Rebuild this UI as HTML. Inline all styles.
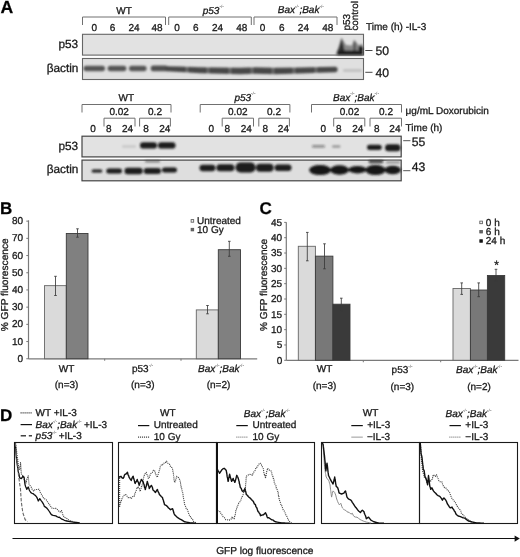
<!DOCTYPE html>
<html><head><meta charset="utf-8"><style>
html,body{margin:0;padding:0;background:#fff;width:520px;height:557px;overflow:hidden}
svg{display:block;font-family:"Liberation Sans", sans-serif;filter:grayscale(1)}
body{-webkit-font-smoothing:antialiased}
text{text-rendering:geometricPrecision;stroke:#1a1a1a;stroke-width:0.3px}
</style></head><body>
<svg width="520" height="557" viewBox="0 0 520 557">
<defs>
<filter id="b1" x="-20%" y="-50%" width="140%" height="200%"><feGaussianBlur stdDeviation="0.8"/></filter>
<filter id="b15" x="-20%" y="-50%" width="140%" height="200%"><feGaussianBlur stdDeviation="1.25"/></filter>
<filter id="b2" x="-20%" y="-50%" width="140%" height="200%"><feGaussianBlur stdDeviation="1.6"/></filter>
</defs>
<rect width="520" height="557" fill="#fff"/>
<text x="0.6" y="13.2" font-size="17.6" text-anchor="start" font-weight="bold" fill="#000" >A</text>
<text x="124" y="14.3" font-size="10" text-anchor="middle" fill="#1a1a1a" >WT</text>
<text x="202.7" y="13.6" font-size="10" text-anchor="start" font-style="italic" fill="#1a1a1a" >p53<tspan font-size="4.6" dy="-5.2" font-style="normal" fill="#444" stroke="none">-/-</tspan></text>
<text x="277.8" y="12.9" font-size="10" text-anchor="start" font-style="italic" fill="#1a1a1a" >Bax<tspan font-size="4.6" dy="-5.2" font-style="normal" fill="#444" stroke="none">-/-</tspan><tspan dy="5.2">;Bak</tspan><tspan font-size="4.6" dy="-5.2" font-style="normal" fill="#444" stroke="none">-/-</tspan></text>
<path d="M82.5 25 V17.0 H165.5 V25" fill="none" stroke="#707070" stroke-width="1"/>
<path d="M168.7 25 V17.0 H251.3 V25" fill="none" stroke="#707070" stroke-width="1"/>
<path d="M254 25 V17.0 H337 V25" fill="none" stroke="#707070" stroke-width="1"/>
<text x="94.4" y="31.2" font-size="10" text-anchor="middle" fill="#1a1a1a" >0</text>
<text x="112.5" y="31.2" font-size="10" text-anchor="middle" fill="#1a1a1a" >6</text>
<text x="134" y="31.2" font-size="10" text-anchor="middle" fill="#1a1a1a" >24</text>
<text x="157" y="31.2" font-size="10" text-anchor="middle" fill="#1a1a1a" >48</text>
<text x="177" y="31.2" font-size="10" text-anchor="middle" fill="#1a1a1a" >0</text>
<text x="195.75" y="31.2" font-size="10" text-anchor="middle" fill="#1a1a1a" >6</text>
<text x="217.5" y="31.2" font-size="10" text-anchor="middle" fill="#1a1a1a" >24</text>
<text x="241.75" y="31.2" font-size="10" text-anchor="middle" fill="#1a1a1a" >48</text>
<text x="262.5" y="31.2" font-size="10" text-anchor="middle" fill="#1a1a1a" >0</text>
<text x="281.7" y="31.2" font-size="10" text-anchor="middle" fill="#1a1a1a" >6</text>
<text x="303.4" y="31.2" font-size="10" text-anchor="middle" fill="#1a1a1a" >24</text>
<text x="327.7" y="31.2" font-size="10" text-anchor="middle" fill="#1a1a1a" >48</text>
<text transform="translate(349.8 30.6) rotate(-90)" font-size="10" fill="#1a1a1a">p53</text>
<text transform="translate(358.4 30.6) rotate(-90)" font-size="9.8" fill="#1a1a1a">control</text>
<text x="366" y="30.3" font-size="10" text-anchor="start" fill="#1a1a1a" >Time (h) -IL-3</text>
<text x="78.2" y="47.6" font-size="11.8" text-anchor="end" fill="#1a1a1a" >p53</text>
<text x="78.4" y="71.7" font-size="11.8" text-anchor="end" fill="#1a1a1a" >&#946;actin</text>
<rect x="82.5" y="34.3" width="281" height="20.8" fill="#e2e2e2" stroke="#666" stroke-width="1.1" />
<rect x="82.5" y="58.5" width="281" height="21" fill="#e0e0e0" stroke="#666" stroke-width="1.1" />
<g filter="url(#b15)"><path d="M335.5 55 L339 46 L341.5 37.5 L343.5 41 L346 45 L352 45.5 L354 39.5 L356 42 L358.5 45 L363 44 L363 55 Z" fill="#8a8a8a"/><path d="M336.5 55 L340 44 L341.5 38.5 L343.2 44 L345.5 55 Z" fill="#333"/><ellipse cx="354.6" cy="48" rx="1.5" ry="7" fill="#5a5a5a"/><ellipse cx="360.8" cy="48.6" rx="2.3" ry="2.6" fill="#111"/><rect x="337.5" y="50.5" width="25.5" height="4.5" fill="#1e1e1e"/></g>
<g filter="url(#b15)">
<rect x="83.5" y="65.8" width="21.5" height="5.4" rx="2.7" fill="#555"/>
<rect x="107.6" y="65.8" width="18.80000000000001" height="5.4" rx="2.7" fill="#555"/>
<rect x="129" y="65.8" width="17.599999999999994" height="5.4" rx="2.7" fill="#555"/>
<rect x="150.7" y="65.60000000000001" width="17.30000000000001" height="5.6" rx="2.8" fill="#505050"/>
<path d="M166 66.3 L180 66.6 L200 67.2 L220 67.6 L240 67.8 L255 67.2 L275 67.8 L300 67.6 L320 67 L336 66.8 Q339.5 69.5 336 72.3 L320 72.8 L300 73.5 L275 74.2 L255 73.8 L240 74.3 L220 73.8 L200 73.2 L180 72 L166 71.2 Q164 68.7 166 66.3 Z" fill="#474747"/>
<rect x="185.8" y="65" width="2.4" height="10" fill="#e0e0e0" opacity="0.25"/>
<rect x="206.8" y="65" width="2.4" height="10" fill="#e0e0e0" opacity="0.25"/>
<rect x="228.8" y="65" width="2.4" height="10" fill="#e0e0e0" opacity="0.25"/>
<rect x="250.8" y="65" width="2.4" height="10" fill="#e0e0e0" opacity="0.25"/>
<rect x="271.8" y="65" width="2.4" height="10" fill="#e0e0e0" opacity="0.25"/>
<rect x="292.8" y="65" width="2.4" height="10" fill="#e0e0e0" opacity="0.25"/>
<rect x="314.8" y="65" width="2.4" height="10" fill="#e0e0e0" opacity="0.25"/>
<rect x="343" y="69.3" width="19" height="2.5" rx="1.2" fill="#bdbdbd"/>
</g>
<text x="365.3" y="50.5" font-size="1" text-anchor="start" fill="#1a1a1a" ></text>
<line x1="365.3" y1="50.5" x2="372.5" y2="50.5" stroke="#333" stroke-width="0.9" />
<text x="375.6" y="54.6" font-size="12.2" text-anchor="start" fill="#1a1a1a" >50</text>
<line x1="365.3" y1="72.3" x2="372.5" y2="72.3" stroke="#333" stroke-width="0.9" />
<text x="375.6" y="76.6" font-size="12.2" text-anchor="start" fill="#1a1a1a" >40</text>
<text x="126.3" y="101" font-size="10" text-anchor="middle" fill="#1a1a1a" >WT</text>
<text x="234.4" y="100.6" font-size="10" text-anchor="start" font-style="italic" fill="#1a1a1a" >p53<tspan font-size="4.6" dy="-5.2" font-style="normal" fill="#444" stroke="none">-/-</tspan></text>
<text x="333" y="100.6" font-size="10" text-anchor="start" font-style="italic" fill="#1a1a1a" >Bax<tspan font-size="4.6" dy="-5.2" font-style="normal" fill="#444" stroke="none">-/-</tspan><tspan dy="5.2">;Bak</tspan><tspan font-size="4.6" dy="-5.2" font-style="normal" fill="#444" stroke="none">-/-</tspan></text>
<path d="M82 112.5 V104.5 H171 V112.5" fill="none" stroke="#707070" stroke-width="1"/>
<path d="M200.2 112.5 V104.5 H289.9 V112.5" fill="none" stroke="#707070" stroke-width="1"/>
<path d="M311.5 112.5 V104.5 H401.5 V112.5" fill="none" stroke="#707070" stroke-width="1"/>
<path d="M104 126.5 V118.2 H135 V126.5" fill="none" stroke="#707070" stroke-width="1"/>
<path d="M139.6 126.5 V118.2 H170.4 V126.5" fill="none" stroke="#707070" stroke-width="1"/>
<path d="M222.2 126.5 V118.2 H253.5 V126.5" fill="none" stroke="#707070" stroke-width="1"/>
<path d="M258.8 126.5 V118.2 H289.4 V126.5" fill="none" stroke="#707070" stroke-width="1"/>
<path d="M333.7 126.5 V118.2 H364.8 V126.5" fill="none" stroke="#707070" stroke-width="1"/>
<path d="M370 126.5 V118.2 H401.5 V126.5" fill="none" stroke="#707070" stroke-width="1"/>
<text x="119.2" y="114.9" font-size="10" text-anchor="middle" fill="#1a1a1a" >0.02</text>
<text x="155" y="114.9" font-size="10" text-anchor="middle" fill="#1a1a1a" >0.2</text>
<text x="237.8" y="114.9" font-size="10" text-anchor="middle" fill="#1a1a1a" >0.02</text>
<text x="274" y="114.9" font-size="10" text-anchor="middle" fill="#1a1a1a" >0.2</text>
<text x="349.5" y="114.9" font-size="10" text-anchor="middle" fill="#1a1a1a" >0.02</text>
<text x="386" y="114.9" font-size="10" text-anchor="middle" fill="#1a1a1a" >0.2</text>
<text x="93" y="132.4" font-size="10" text-anchor="middle" fill="#1a1a1a" >0</text>
<text x="108.7" y="132.4" font-size="10" text-anchor="middle" fill="#1a1a1a" >8</text>
<text x="127.5" y="132.4" font-size="10" text-anchor="middle" fill="#1a1a1a" >24</text>
<text x="146" y="132.4" font-size="10" text-anchor="middle" fill="#1a1a1a" >8</text>
<text x="164.7" y="132.4" font-size="10" text-anchor="middle" fill="#1a1a1a" >24</text>
<text x="211.4" y="132.4" font-size="10" text-anchor="middle" fill="#1a1a1a" >0</text>
<text x="227.3" y="132.4" font-size="10" text-anchor="middle" fill="#1a1a1a" >8</text>
<text x="246.3" y="132.4" font-size="10" text-anchor="middle" fill="#1a1a1a" >24</text>
<text x="265.4" y="132.4" font-size="10" text-anchor="middle" fill="#1a1a1a" >8</text>
<text x="283.4" y="132.4" font-size="10" text-anchor="middle" fill="#1a1a1a" >24</text>
<text x="323.3" y="132.4" font-size="10" text-anchor="middle" fill="#1a1a1a" >0</text>
<text x="338.7" y="132.4" font-size="10" text-anchor="middle" fill="#1a1a1a" >8</text>
<text x="357.8" y="132.4" font-size="10" text-anchor="middle" fill="#1a1a1a" >24</text>
<text x="376.7" y="132.4" font-size="10" text-anchor="middle" fill="#1a1a1a" >8</text>
<text x="394.9" y="132.4" font-size="10" text-anchor="middle" fill="#1a1a1a" >24</text>
<text x="405.6" y="113.9" font-size="10" text-anchor="start" fill="#1a1a1a" >&#956;g/mL Doxorubicin</text>
<text x="405.6" y="131.2" font-size="10" text-anchor="start" fill="#1a1a1a" >Time (h)</text>
<text x="78.2" y="149.6" font-size="11.8" text-anchor="end" fill="#1a1a1a" >p53</text>
<text x="78.4" y="173.3" font-size="11.8" text-anchor="end" fill="#1a1a1a" >&#946;actin</text>
<rect x="82" y="136.2" width="319.2" height="20.7" fill="#e2e2e2" stroke="#444" stroke-width="1.2" />
<rect x="82" y="160.1" width="319.2" height="20.7" fill="#dedede" stroke="#444" stroke-width="1.2" />
<g filter="url(#b1)">
<rect x="140" y="142.25" width="17" height="6.3" rx="3.15" fill="#1a1a1a" opacity="1"/>
<rect x="158" y="142.25" width="17.5" height="6.3" rx="3.15" fill="#1a1a1a" opacity="1"/>
<rect x="312" y="145.3" width="13" height="2.2" rx="1.1" fill="#1a1a1a" opacity="0.5"/>
<rect x="332" y="145.6" width="8.5" height="2" rx="1.0" fill="#1a1a1a" opacity="0.4"/>
<rect x="122" y="145.25" width="14" height="2.5" rx="1.25" fill="#1a1a1a" opacity="0.12"/>
<rect x="367" y="144.70000000000002" width="14.699999999999989" height="5.2" rx="2.6" fill="#1a1a1a" opacity="1"/>
<rect x="385" y="144.3" width="15.5" height="7" rx="3.5" fill="#1a1a1a" opacity="1"/>
<rect x="91.6" y="169.5" width="10.700000000000003" height="3" rx="1.5" fill="#1a1a1a"/>
<rect x="106.3" y="168.5" width="15.700000000000003" height="5" rx="2.5" fill="#1a1a1a"/>
<rect x="124.5" y="167.75" width="18.19999999999999" height="6.5" rx="3.25" fill="#1a1a1a"/>
<rect x="143.7" y="168.0" width="17.30000000000001" height="6" rx="3.0" fill="#1a1a1a"/>
<rect x="162" y="167.5" width="15" height="5" rx="2.5" fill="#1a1a1a"/>
<rect x="199.5" y="164.85" width="15.900000000000006" height="6.3" rx="3.15" fill="#1a1a1a"/>
<rect x="216.4" y="164.3" width="18.0" height="7" rx="3.5" fill="#1a1a1a"/>
<rect x="235.5" y="162.5" width="20.099999999999994" height="10" rx="5.0" fill="#1a1a1a"/>
<rect x="256" y="163.8" width="17.600000000000023" height="8" rx="4.0" fill="#1a1a1a"/>
<rect x="274.6" y="164.55" width="16.899999999999977" height="6.5" rx="3.25" fill="#1a1a1a"/>
<ellipse cx="320.05" cy="170.1" rx="10.949999999999989" ry="5.0" fill="#141414"/>
<ellipse cx="339.5" cy="170" rx="9.5" ry="4.7" fill="#141414"/>
<ellipse cx="357.5" cy="169.7" rx="9.0" ry="3.7" fill="#141414"/>
<ellipse cx="375.5" cy="170.1" rx="10.0" ry="5.0" fill="#141414"/>
<ellipse cx="392.75" cy="170" rx="8.25" ry="4.3" fill="#141414"/>
<rect x="145" y="160.5" width="15" height="1.8" rx="0.9" fill="#333" opacity="0.7"/>
<rect x="368.7" y="160.6" width="14.5" height="2.2" rx="1" fill="#111"/>
<rect x="386" y="161" width="14" height="2.5" rx="1" fill="#999"/>
</g>
<line x1="403.2" y1="140.7" x2="410.4" y2="140.7" stroke="#444" stroke-width="0.9" />
<text x="411.7" y="145.6" font-size="12.2" text-anchor="start" fill="#1a1a1a" >55</text>
<line x1="403.2" y1="170.7" x2="410.4" y2="170.7" stroke="#444" stroke-width="0.9" />
<text x="411.7" y="170.9" font-size="12.2" text-anchor="start" fill="#1a1a1a" >43</text>
<text x="0" y="213.8" font-size="17" text-anchor="start" font-weight="bold" fill="#000" >B</text>
<line x1="28.5" y1="220.3" x2="28.5" y2="359" stroke="#7a7a7a" stroke-width="1.2" />
<line x1="28.5" y1="358.9" x2="257.2" y2="358.9" stroke="#7a7a7a" stroke-width="1.3" />
<line x1="26.3" y1="358.75" x2="28.5" y2="358.75" stroke="#777" stroke-width="1" />
<text x="23.0" y="361.85" font-size="10" text-anchor="end" fill="#1a1a1a" >0</text>
<line x1="26.3" y1="341.55" x2="28.5" y2="341.55" stroke="#777" stroke-width="1" />
<text x="23.0" y="344.65000000000003" font-size="10" text-anchor="end" fill="#1a1a1a" >10</text>
<line x1="26.3" y1="324.35" x2="28.5" y2="324.35" stroke="#777" stroke-width="1" />
<text x="23.0" y="327.45000000000005" font-size="10" text-anchor="end" fill="#1a1a1a" >20</text>
<line x1="26.3" y1="307.15" x2="28.5" y2="307.15" stroke="#777" stroke-width="1" />
<text x="23.0" y="310.25" font-size="10" text-anchor="end" fill="#1a1a1a" >30</text>
<line x1="26.3" y1="289.95" x2="28.5" y2="289.95" stroke="#777" stroke-width="1" />
<text x="23.0" y="293.05" font-size="10" text-anchor="end" fill="#1a1a1a" >40</text>
<line x1="26.3" y1="272.75" x2="28.5" y2="272.75" stroke="#777" stroke-width="1" />
<text x="23.0" y="275.85" font-size="10" text-anchor="end" fill="#1a1a1a" >50</text>
<line x1="26.3" y1="255.55" x2="28.5" y2="255.55" stroke="#777" stroke-width="1" />
<text x="23.0" y="258.65000000000003" font-size="10" text-anchor="end" fill="#1a1a1a" >60</text>
<line x1="26.3" y1="238.35000000000002" x2="28.5" y2="238.35000000000002" stroke="#777" stroke-width="1" />
<text x="23.0" y="241.45000000000002" font-size="10" text-anchor="end" fill="#1a1a1a" >70</text>
<line x1="26.3" y1="221.15" x2="28.5" y2="221.15" stroke="#777" stroke-width="1" />
<text x="23.0" y="224.25" font-size="10" text-anchor="end" fill="#1a1a1a" >80</text>
<line x1="104.7" y1="358.75" x2="104.7" y2="360.75" stroke="#777" stroke-width="1" />
<line x1="181" y1="358.75" x2="181" y2="360.75" stroke="#777" stroke-width="1" />
<text transform="translate(8.0 331.3) rotate(-90)" font-size="10" fill="#1a1a1a" textLength="93" lengthAdjust="spacingAndGlyphs">% GFP fluorescence</text>
<rect x="44.5" y="285.65" width="21.799999999999997" height="73.10000000000002" fill="#dadada" stroke="#666" stroke-width="0.9" />
<rect x="66.3" y="233.534" width="21.700000000000003" height="125.21600000000001" fill="#808080" stroke="#3a3a3a" stroke-width="0.9" />
<rect x="196.3" y="309.902" width="22.0" height="48.84800000000001" fill="#dadada" stroke="#666" stroke-width="0.9" />
<rect x="218.3" y="249.702" width="22.19999999999999" height="109.048" fill="#808080" stroke="#3a3a3a" stroke-width="0.9" />
<line x1="55.5" y1="276.3" x2="55.5" y2="295.5" stroke="#3a3a3a" stroke-width="0.85" />
<line x1="54.2" y1="276.3" x2="56.8" y2="276.3" stroke="#3a3a3a" stroke-width="0.85" />
<line x1="54.2" y1="295.5" x2="56.8" y2="295.5" stroke="#3a3a3a" stroke-width="0.85" />
<line x1="77.5" y1="228.8" x2="77.5" y2="237.2" stroke="#3a3a3a" stroke-width="0.85" />
<line x1="76.2" y1="228.8" x2="78.8" y2="228.8" stroke="#3a3a3a" stroke-width="0.85" />
<line x1="76.2" y1="237.2" x2="78.8" y2="237.2" stroke="#3a3a3a" stroke-width="0.85" />
<line x1="207.5" y1="305.5" x2="207.5" y2="313.8" stroke="#3a3a3a" stroke-width="0.85" />
<line x1="206.2" y1="305.5" x2="208.8" y2="305.5" stroke="#3a3a3a" stroke-width="0.85" />
<line x1="206.2" y1="313.8" x2="208.8" y2="313.8" stroke="#3a3a3a" stroke-width="0.85" />
<line x1="229.3" y1="241.3" x2="229.3" y2="256.3" stroke="#3a3a3a" stroke-width="0.85" />
<line x1="228.0" y1="241.3" x2="230.60000000000002" y2="241.3" stroke="#3a3a3a" stroke-width="0.85" />
<line x1="228.0" y1="256.3" x2="230.60000000000002" y2="256.3" stroke="#3a3a3a" stroke-width="0.85" />
<text x="66.6" y="372.3" font-size="10" text-anchor="middle" fill="#1a1a1a" >WT</text>
<text x="132" y="372.3" font-size="10" text-anchor="start" fill="#1a1a1a" >p53<tspan font-size="4.6" dy="-5.2" font-style="normal" fill="#444" stroke="none">-/-</tspan></text>
<text x="198" y="372.3" font-size="10" text-anchor="start" font-style="italic" fill="#1a1a1a" >Bax<tspan font-size="4.6" dy="-5.2" font-style="normal" fill="#444" stroke="none">-/-</tspan><tspan dy="5.2">;Bak</tspan><tspan font-size="4.6" dy="-5.2" font-style="normal" fill="#444" stroke="none">-/-</tspan></text>
<text x="66.6" y="387.9" font-size="10" text-anchor="middle" fill="#1a1a1a" >(n=3)</text>
<text x="142.8" y="387.9" font-size="10" text-anchor="middle" fill="#1a1a1a" >(n=3)</text>
<text x="218.5" y="387.9" font-size="10" text-anchor="middle" fill="#1a1a1a" >(n=2)</text>
<rect x="191.1" y="219.6" width="2.6" height="2.6" fill="#f0f0f0" stroke="#555" stroke-width="0.8" />
<rect x="191.1" y="228.3" width="2.6" height="2.6" fill="#666" stroke="#555" stroke-width="0.8" />
<text x="197" y="224.2" font-size="10" text-anchor="start" fill="#1a1a1a" >Untreated</text>
<text x="197" y="233.2" font-size="10" text-anchor="start" fill="#1a1a1a" >10 Gy</text>
<text x="259.5" y="213.8" font-size="17" text-anchor="start" font-weight="bold" fill="#000" >C</text>
<line x1="286.3" y1="222.2" x2="286.3" y2="360.5" stroke="#7a7a7a" stroke-width="1.2" />
<line x1="286.3" y1="360.4" x2="518.5" y2="360.4" stroke="#7a7a7a" stroke-width="1.3" />
<line x1="284.2" y1="360.3" x2="286.3" y2="360.3" stroke="#777" stroke-width="1" />
<text x="282.2" y="363.7" font-size="10" text-anchor="end" fill="#1a1a1a" >0</text>
<line x1="284.2" y1="344.975" x2="286.3" y2="344.975" stroke="#777" stroke-width="1" />
<text x="282.2" y="348.375" font-size="10" text-anchor="end" fill="#1a1a1a" >5</text>
<line x1="284.2" y1="329.65000000000003" x2="286.3" y2="329.65000000000003" stroke="#777" stroke-width="1" />
<text x="282.2" y="333.05" font-size="10" text-anchor="end" fill="#1a1a1a" >10</text>
<line x1="284.2" y1="314.325" x2="286.3" y2="314.325" stroke="#777" stroke-width="1" />
<text x="282.2" y="317.72499999999997" font-size="10" text-anchor="end" fill="#1a1a1a" >15</text>
<line x1="284.2" y1="299.0" x2="286.3" y2="299.0" stroke="#777" stroke-width="1" />
<text x="282.2" y="302.4" font-size="10" text-anchor="end" fill="#1a1a1a" >20</text>
<line x1="284.2" y1="283.675" x2="286.3" y2="283.675" stroke="#777" stroke-width="1" />
<text x="282.2" y="287.075" font-size="10" text-anchor="end" fill="#1a1a1a" >25</text>
<line x1="284.2" y1="268.35" x2="286.3" y2="268.35" stroke="#777" stroke-width="1" />
<text x="282.2" y="271.75" font-size="10" text-anchor="end" fill="#1a1a1a" >30</text>
<line x1="284.2" y1="253.02500000000003" x2="286.3" y2="253.02500000000003" stroke="#777" stroke-width="1" />
<text x="282.2" y="256.425" font-size="10" text-anchor="end" fill="#1a1a1a" >35</text>
<line x1="284.2" y1="237.70000000000002" x2="286.3" y2="237.70000000000002" stroke="#777" stroke-width="1" />
<text x="282.2" y="241.10000000000002" font-size="10" text-anchor="end" fill="#1a1a1a" >40</text>
<line x1="284.2" y1="222.375" x2="286.3" y2="222.375" stroke="#777" stroke-width="1" />
<text x="282.2" y="225.775" font-size="10" text-anchor="end" fill="#1a1a1a" >45</text>
<line x1="363.3" y1="360.25" x2="363.3" y2="362.25" stroke="#777" stroke-width="1" />
<line x1="440.7" y1="360.25" x2="440.7" y2="362.25" stroke="#777" stroke-width="1" />
<text transform="translate(266.9 330.9) rotate(-90)" font-size="10" fill="#1a1a1a" textLength="92" lengthAdjust="spacingAndGlyphs">% GFP fluorescence</text>
<rect x="298.3" y="246.29" width="17.099999999999966" height="113.96000000000001" fill="#dadada" stroke="#666" stroke-width="0.9" />
<rect x="315.4" y="256.146" width="17.5" height="104.10399999999998" fill="#787878" stroke="#3a3a3a" stroke-width="0.9" />
<rect x="332.9" y="304.194" width="17.100000000000023" height="56.05599999999998" fill="#3a3a3a" stroke="#3a3a3a" stroke-width="0.9" />
<rect x="453" y="288.486" width="17.399999999999977" height="71.76400000000001" fill="#dadada" stroke="#666" stroke-width="0.9" />
<rect x="470.4" y="290.026" width="17.0" height="70.22399999999999" fill="#787878" stroke="#3a3a3a" stroke-width="0.9" />
<rect x="487.4" y="275.55" width="17.30000000000001" height="84.69999999999999" fill="#3a3a3a" stroke="#3a3a3a" stroke-width="0.9" />
<line x1="307.3" y1="232.4" x2="307.3" y2="260.8" stroke="#3a3a3a" stroke-width="0.85" />
<line x1="306.0" y1="232.4" x2="308.6" y2="232.4" stroke="#3a3a3a" stroke-width="0.85" />
<line x1="306.0" y1="260.8" x2="308.6" y2="260.8" stroke="#3a3a3a" stroke-width="0.85" />
<line x1="324.5" y1="243.8" x2="324.5" y2="268.8" stroke="#3a3a3a" stroke-width="0.85" />
<line x1="323.2" y1="243.8" x2="325.8" y2="243.8" stroke="#3a3a3a" stroke-width="0.85" />
<line x1="323.2" y1="268.8" x2="325.8" y2="268.8" stroke="#3a3a3a" stroke-width="0.85" />
<line x1="341.3" y1="298.2" x2="341.3" y2="311.3" stroke="#3a3a3a" stroke-width="0.85" />
<line x1="340.0" y1="298.2" x2="342.6" y2="298.2" stroke="#3a3a3a" stroke-width="0.85" />
<line x1="340.0" y1="311.3" x2="342.6" y2="311.3" stroke="#3a3a3a" stroke-width="0.85" />
<line x1="461.7" y1="282.9" x2="461.7" y2="294.4" stroke="#3a3a3a" stroke-width="0.85" />
<line x1="460.4" y1="282.9" x2="463.0" y2="282.9" stroke="#3a3a3a" stroke-width="0.85" />
<line x1="460.4" y1="294.4" x2="463.0" y2="294.4" stroke="#3a3a3a" stroke-width="0.85" />
<line x1="478.7" y1="282.9" x2="478.7" y2="296.7" stroke="#3a3a3a" stroke-width="0.85" />
<line x1="477.4" y1="282.9" x2="480.0" y2="282.9" stroke="#3a3a3a" stroke-width="0.85" />
<line x1="477.4" y1="296.7" x2="480.0" y2="296.7" stroke="#3a3a3a" stroke-width="0.85" />
<line x1="496" y1="269.3" x2="496" y2="280.9" stroke="#3a3a3a" stroke-width="0.85" />
<line x1="494.7" y1="269.3" x2="497.3" y2="269.3" stroke="#3a3a3a" stroke-width="0.85" />
<line x1="494.7" y1="280.9" x2="497.3" y2="280.9" stroke="#3a3a3a" stroke-width="0.85" />
<text x="496.6" y="269.2" font-size="12" text-anchor="middle" fill="#1a1a1a" >*</text>
<text x="324.5" y="372.3" font-size="10" text-anchor="middle" fill="#1a1a1a" >WT</text>
<text x="391.6" y="373.3" font-size="10" text-anchor="start" fill="#1a1a1a" >p53<tspan font-size="4.6" dy="-5.2" font-style="normal" fill="#444" stroke="none">-/-</tspan></text>
<text x="456" y="373.3" font-size="10" text-anchor="start" font-style="italic" fill="#1a1a1a" >Bax<tspan font-size="4.6" dy="-5.2" font-style="normal" fill="#444" stroke="none">-/-</tspan><tspan dy="5.2">;Bak</tspan><tspan font-size="4.6" dy="-5.2" font-style="normal" fill="#444" stroke="none">-/-</tspan></text>
<text x="324.5" y="388.7" font-size="10" text-anchor="middle" fill="#1a1a1a" >(n=3)</text>
<text x="402.3" y="389.8" font-size="10" text-anchor="middle" fill="#1a1a1a" >(n=3)</text>
<text x="479" y="389.8" font-size="10" text-anchor="middle" fill="#1a1a1a" >(n=2)</text>
<rect x="479.8" y="221.1" width="2.6" height="2.6" fill="#f0f0f0" stroke="#555" stroke-width="0.8" />
<rect x="479.8" y="230.4" width="2.6" height="2.6" fill="#666" stroke="#555" stroke-width="0.8" />
<rect x="479.8" y="239.7" width="2.6" height="2.6" fill="#111" stroke="#222" stroke-width="0.8" />
<text x="485.8" y="225.6" font-size="10" text-anchor="start" fill="#1a1a1a" >0 h</text>
<text x="485.8" y="234.9" font-size="10" text-anchor="start" fill="#1a1a1a" >6 h</text>
<text x="485.8" y="244.3" font-size="10" text-anchor="start" fill="#1a1a1a" >24 h</text>
<text x="0" y="420.6" font-size="17" text-anchor="start" font-weight="bold" fill="#000" >D</text>
<line x1="20.5" y1="412.9" x2="32" y2="412.9" stroke="#444" stroke-width="1.3" stroke-dasharray="1.2 0.8"/>
<line x1="20.6" y1="424.6" x2="32" y2="424.6" stroke="#111" stroke-width="1.2" />
<line x1="20.7" y1="435.8" x2="26" y2="435.8" stroke="#222" stroke-width="1.3" />
<line x1="28.8" y1="435.8" x2="32" y2="435.8" stroke="#222" stroke-width="1.3" />
<text x="35.6" y="416.4" font-size="10" text-anchor="start" fill="#1a1a1a" >WT +IL-3</text>
<text x="35.6" y="427.9" font-size="10" text-anchor="start" font-style="italic" fill="#1a1a1a" >Bax<tspan font-size="4.6" dy="-5.2" font-style="normal" fill="#444" stroke="none">-/-</tspan><tspan dy="5.2">;Bak</tspan><tspan font-size="4.6" dy="-5.2" font-style="normal" fill="#444" stroke="none">-/-</tspan><tspan dy="5.2" x="84.0" font-style="normal">+IL-3</tspan></text>
<text x="35.6" y="439.3" font-size="10" text-anchor="start" font-style="italic" fill="#1a1a1a" >p53<tspan font-size="4.6" dy="-5.2" font-style="normal" fill="#444" stroke="none">-/-</tspan><tspan dy="5.2" x="58.7" font-style="normal">+IL-3</tspan></text>
<text x="167.8" y="416.3" font-size="10" text-anchor="middle" fill="#1a1a1a" >WT</text>
<line x1="138" y1="425.6" x2="149.3" y2="425.6" stroke="#111" stroke-width="1.2" />
<text x="153.8" y="428.2" font-size="10" text-anchor="start" fill="#1a1a1a" >Untreated</text>
<line x1="138" y1="437.1" x2="149.3" y2="437.1" stroke="#444" stroke-width="1.2" stroke-dasharray="1.1 0.9"/>
<text x="153.8" y="439.8" font-size="10" text-anchor="start" fill="#1a1a1a" >10 Gy</text>
<text x="243.8" y="417" font-size="10" text-anchor="start" font-style="italic" fill="#1a1a1a" >Bax<tspan font-size="4.6" dy="-5.2" font-style="normal" fill="#444" stroke="none">-/-</tspan><tspan dy="5.2">;Bak</tspan><tspan font-size="4.6" dy="-5.2" font-style="normal" fill="#444" stroke="none">-/-</tspan></text>
<line x1="236.3" y1="425.6" x2="247.8" y2="425.6" stroke="#111" stroke-width="1.2" />
<text x="252.5" y="428.2" font-size="10" text-anchor="start" fill="#1a1a1a" >Untreated</text>
<line x1="236.3" y1="437.1" x2="247.8" y2="437.1" stroke="#888" stroke-width="1.2" stroke-dasharray="1.1 0.9"/>
<text x="252.5" y="439.8" font-size="10" text-anchor="start" fill="#1a1a1a" >10 Gy</text>
<text x="370.6" y="416.3" font-size="10" text-anchor="middle" fill="#1a1a1a" >WT</text>
<line x1="351.3" y1="425.6" x2="362.8" y2="425.6" stroke="#111" stroke-width="1.2" />
<text x="367.2" y="428.4" font-size="10" text-anchor="start" fill="#1a1a1a" >+IL-3</text>
<line x1="351.3" y1="437.15" x2="362.8" y2="437.15" stroke="#aaa" stroke-width="1.2" />
<text x="367" y="439.6" font-size="10" text-anchor="start" fill="#1a1a1a" >&#8722;IL-3</text>
<text x="445.5" y="417" font-size="10" text-anchor="start" font-style="italic" fill="#1a1a1a" >Bax<tspan font-size="4.6" dy="-5.2" font-style="normal" fill="#444" stroke="none">-/-</tspan><tspan dy="5.2">;Bak</tspan><tspan font-size="4.6" dy="-5.2" font-style="normal" fill="#444" stroke="none">-/-</tspan></text>
<line x1="449.5" y1="425.6" x2="460.9" y2="425.6" stroke="#111" stroke-width="1.2" />
<text x="465.3" y="428.4" font-size="10" text-anchor="start" fill="#1a1a1a" >+IL-3</text>
<line x1="449.3" y1="437.15" x2="461" y2="437.15" stroke="#888" stroke-width="1.2" stroke-dasharray="1.1 0.9"/>
<text x="465.3" y="439.6" font-size="10" text-anchor="start" fill="#1a1a1a" >&#8722;IL-3</text>
<rect x="14.5" y="442.5" width="98.0" height="81" fill="none" stroke="#1a1a1a" stroke-width="1.1" />
<rect x="118.5" y="442.5" width="98.0" height="81" fill="none" stroke="#1a1a1a" stroke-width="1.1" />
<rect x="216.5" y="442.5" width="98.0" height="81" fill="none" stroke="#1a1a1a" stroke-width="1.1" />
<rect x="321.5" y="442.5" width="98.0" height="81" fill="none" stroke="#1a1a1a" stroke-width="1.1" />
<rect x="419.5" y="442.5" width="98.0" height="81" fill="none" stroke="#1a1a1a" stroke-width="1.1" />
<polyline points="15.5,443.2 15.67,444.23 15.83,445.26 16.0,447.37 16.17,447.76 16.33,449.81 16.5,450.85 16.67,451.67 16.83,453.7 17.0,455.0 17.19,455.63 17.38,457.64 17.56,458.44 17.75,459.85 17.94,461.75 18.12,463.77 18.31,464.02 18.5,466.0 18.93,466.89 19.37,468.87 19.8,470.0 19.94,469.22 20.08,467.12 20.22,465.33 20.36,464.76 20.5,462.5 20.6,463.21 20.7,465.95 20.8,466.48 20.9,467.68 21.0,469.08 21.1,470.82 21.2,473.07 21.3,474.0 22.15,474.49 23.0,476.0 23.5,477.46 24.0,478.89 24.5,480.0 25.25,481.3 26.0,483.0 26.38,481.83 26.75,479.8 27.12,478.55 27.5,478.0 28.2,475.8 28.33,476.7 28.47,478.82 28.6,479.78 28.73,480.97 28.87,482.77 29.0,484.0 29.75,485.08 30.5,486.3 31.27,487.15 32.05,489.12 32.83,490.14 33.6,491.0 34.8,489.84 36.0,489.5 37.5,489.47 39.0,489.2 39.58,490.44 40.15,492.2 40.72,493.17 41.3,494.0 42.1,495.16 42.9,497.0 43.95,498.77 45.0,499.0 46.25,499.79 47.5,501.8 48.36,502.91 49.22,504.69 50.08,504.96 50.94,506.74 51.8,508.0 54.0,508.5 55.7,508.31 57.4,509.6 58.7,511.07 60.0,512.0 61.5,510.5 61.96,512.16 62.42,513.1 62.88,514.82 63.34,515.16 63.8,516.7 65.4,517.91 67.0,518.5 68.5,519.7 70.0,520.6 71.25,521.02 72.5,521.45 73.75,521.88 75.0,522.3 76.67,522.53 78.33,522.77 80.0,523.0" fill="none" stroke="#444" stroke-width="1.1" stroke-linejoin="round" stroke-dasharray="1.1 0.9"/>
<polyline points="15.1,443 15.22,444.39 15.33,445.57 15.45,447.26 15.56,448.68 15.68,449.51 15.79,451.01 15.91,451.71 16.02,453.66 16.14,454.92 16.25,456.57 16.37,457.71 16.48,458.48 16.6,460.0 16.8,461.26 17.0,462.92 17.2,463.65 17.4,465.46 17.6,466.54 17.8,467.87 18.0,469.18 18.2,471.0 18.5,472.63 18.8,473.35 19.1,474.83 19.4,476.33 19.7,477.8 21.3,478.6 22.05,477.82 22.8,476.3 24.0,477.0 24.18,477.88 24.37,479.55 24.55,480.95 24.73,482.58 24.92,483.82 25.1,484.8 25.63,486.7 26.17,487.65 26.7,489.4 27.45,488.12 28.2,487.0 28.73,488.19 29.27,490.05 29.8,491.0 30.9,492.61 32.0,493.3 33.2,493.7 34.4,494.8 35.55,495.63 36.7,497.1 37.23,498.13 37.77,499.43 38.3,501.0 39.05,499.83 39.8,498.7 40.95,500.34 42.1,501.8 42.87,503.1 43.63,504.37 44.4,506.4 45.55,507.12 46.7,508.0 47.85,509.37 49.0,511.0 49.93,512.37 50.87,514.05 51.8,514.9 53.13,515.42 54.47,515.58 55.8,515.9 57.0,516.62 58.2,517.28 59.4,517.25 60.6,518.3 61.86,519.24 63.12,519.66 64.38,520.29 65.64,520.76 66.9,521.0 68.48,521.3 70.05,521.6 71.62,521.9 73.2,522.2 74.8,522.35 76.4,522.5 78.0,522.65 79.6,522.8" fill="none" stroke="#111" stroke-width="1.3" stroke-linejoin="round"/>
<polyline points="15.5,443.2 17,462 18.5,475 19.7,484 20.5,489.4 21.3,501.8 22.8,512.6 25.1,519.5 27.4,521.8" fill="none" stroke="#666" stroke-width="1.1" stroke-linejoin="round" stroke-dasharray="3.5 1.5"/>
<polyline points="119.4,506.6 119.85,505.05 120.3,503.73 120.75,501.81 121.2,501.54 121.65,499.06 122.1,498.6 123.1,496.37 124.1,495.28 125.1,494.5 126.1,494.86 127.1,496.25 128.1,497.6 129.65,497.21 131.2,498.6 132.7,496.55 134.2,496.5 134.7,494.3 135.2,492.7 135.7,491.73 136.2,490.5 136.87,488.18 137.53,488.52 138.2,486.4 138.7,487.9 139.2,488.25 139.7,489.73 140.2,491.5 140.62,489.77 141.04,488.39 141.46,486.49 141.88,486.52 142.3,484.4 142.59,484.09 142.87,481.73 143.16,480.47 143.44,478.37 143.73,477.1 144.01,476.29 144.3,475.3 145.3,473.33 146.3,472.3 146.8,474.48 147.3,474.67 147.8,475.92 148.3,478.4 149.05,478.03 149.8,475.91 150.55,473.87 151.3,473.3 152.33,472.39 153.37,470.35 154.4,470.3 155.0,471.78 155.6,474.1 156.2,475.29 156.8,476.37 157.4,477.4 157.78,475.53 158.15,474.36 158.53,472.57 158.9,472.39 159.28,470.53 159.65,469.63 160.03,467.35 160.4,466.3 161.43,464.71 162.47,464.86 163.5,463.2 165.0,463.17 166.5,461.2 167.5,462.91 168.5,463.81 169.5,464.2 170.28,466.11 171.05,467.23 171.82,467.48 172.6,469.3 172.8,470.65 173.0,471.63 173.2,472.29 173.4,473.6 173.6,475.41 173.8,476.68 174.0,478.86 174.2,480.69 174.4,480.98 174.6,482.4 175.1,481.75 175.6,480.33 176.1,478.74 176.6,476.3 177.6,477.06 178.6,477.81 179.6,479.4 179.9,480.16 180.2,481.41 180.5,482.74 180.8,484.89 181.1,486.75 181.4,487.94 181.7,488.53 182.0,490.19 182.3,491.79 182.6,492.5 182.83,493.01 183.07,495.51 183.3,497.35 183.53,498.44 183.77,499.72 184.0,500.52 184.23,501.27 184.47,503.83 184.7,504.6 185.3,505.49 185.9,507.64 186.5,509.2 187.1,509.27 187.7,510.7 188.3,511.9 188.9,514.39 189.5,515.35 190.1,515.64 190.7,517.7 191.73,518.32 192.77,519.74 193.8,521.8 195.3,522.5 196.8,523.2" fill="none" stroke="#444" stroke-width="1.1" stroke-linejoin="round" stroke-dasharray="1.1 0.9"/>
<line x1="119.6" y1="476" x2="119.6" y2="507" stroke="#555" stroke-width="1.2" stroke-dasharray="1 1"/>
<polyline points="119,477.4 121.0,476.3 122.05,477.92 123.1,478.4 123.77,477.46 124.43,475.17 125.1,474.3 126.3,473.76 127.5,472.3 127.9,474.25 128.3,475.07 128.7,475.92 129.1,477.4 130.15,478.97 131.2,480.4 131.87,478.52 132.53,476.99 133.2,476.3 133.6,478.38 134.0,479.35 134.4,480.6 134.8,482.59 135.2,483.4 135.87,481.97 136.53,481.25 137.2,479.4 137.7,481.36 138.2,482.0 138.7,483.55 139.2,485.4 139.72,483.61 140.25,482.04 140.78,481.02 141.3,479.4 142.3,480.56 143.3,482.4 143.7,483.71 144.1,484.72 144.5,487.23 144.9,487.88 145.3,489.5 145.63,488.09 145.97,486.92 146.3,486.02 146.63,483.99 146.97,483.33 147.3,481.4 147.7,482.82 148.1,484.28 148.5,485.69 148.9,486.41 149.3,488.5 150.3,486.87 151.3,485.4 151.83,486.23 152.35,487.26 152.88,489.64 153.4,490.5 154.4,491.04 155.4,492.5 156.4,490.96 157.4,489.5 157.9,491.07 158.4,492.08 158.9,493.01 159.4,494.5 160.43,495.56 161.47,496.64 162.5,497.6 162.9,499.4 163.3,499.85 163.7,501.88 164.1,502.85 164.5,504.6 166.0,505.29 167.5,506.6 168.5,508.01 169.5,508.68 170.5,509.7 172.6,508.7 173.1,510.29 173.6,512.06 174.1,513.78 174.6,514.7 175.6,515.62 176.6,516.7 178.1,517.91 179.6,518.8 181.6,519.8 183.15,520.81 184.7,521.8 186.37,522.13 188.03,522.47 189.7,522.8 191.22,522.9 192.75,523.0 194.28,523.1 195.8,523.2" fill="none" stroke="#111" stroke-width="1.4" stroke-linejoin="round"/>
<polyline points="217.4,510.7 218.75,511.22 220.1,511.7 220.85,513.34 221.6,514.1 222.35,515.52 223.1,516.7 224.43,517.69 225.77,519.65 227.1,519.8 228.65,520.2 230.2,519.8 231.2,519.0 232.2,516.7 233.2,518.63 234.2,518.8 234.49,517.02 234.77,516.32 235.06,515.79 235.34,514.28 235.63,511.57 235.91,510.24 236.2,509.7 236.82,508.16 237.44,506.01 238.06,504.92 238.68,503.17 239.3,502.6 239.9,501.72 240.5,500.73 241.1,499.73 241.7,497.03 242.3,496.5 242.8,495.6 243.3,494.15 243.8,491.79 244.3,491.93 244.8,490.77 245.3,488.5 245.41,486.58 245.52,486.69 245.63,484.23 245.74,483.05 245.86,482.7 245.97,481.03 246.08,478.33 246.19,477.52 246.3,476.3 247.8,475.33 249.3,474.3 250.85,474.48 252.4,475.3 253.07,473.36 253.73,472.27 254.4,471.3 255.15,470.49 255.9,467.84 256.65,467.66 257.4,466.3 258.43,465.15 259.47,463.27 260.5,463.2 261.15,464.14 261.8,466.0 262.45,467.05 263.1,468.3 263.44,468.87 263.79,472.16 264.13,473.21 264.47,475.01 264.81,474.72 265.16,476.49 265.5,478.4 265.79,476.04 266.07,476.07 266.36,473.61 266.64,471.89 266.93,471.03 267.21,470.57 267.5,468.3 269.05,469.94 270.6,470.3 271.1,471.07 271.6,472.1 272.1,474.89 272.6,475.3 272.93,476.79 273.27,478.4 273.6,478.53 273.93,479.82 274.27,482.43 274.6,483.4 275.2,484.67 275.8,485.38 276.4,488.54 277.0,489.35 277.6,490.5 277.89,492.55 278.17,492.55 278.46,495.54 278.74,495.4 279.03,498.44 279.31,499.06 279.6,500.6 280.12,501.63 280.63,503.41 281.15,505.5 281.67,505.54 282.18,506.61 282.7,508.7 283.3,509.95 283.9,510.58 284.5,511.52 285.1,512.82 285.7,514.7 286.3,515.02 286.9,516.54 287.5,517.98 288.1,519.19 288.7,520.8 289.73,521.6 290.77,522.4 291.8,523.2" fill="none" stroke="#444" stroke-width="1.1" stroke-linejoin="round" stroke-dasharray="1.1 0.9"/>
<polyline points="217.4,469.3 218.1,471.0 218.8,471.67 219.5,473.3 220.5,471.8 221.5,470.3 222.8,468.85 224.1,468.3 225.1,469.09 226.1,470.3 226.35,471.01 226.6,472.73 226.85,473.78 227.1,476.18 227.35,477.31 227.6,478.19 227.85,479.98 228.1,481.4 228.4,480.59 228.7,478.01 229.0,477.59 229.3,475.63 229.6,474.3 230.0,475.71 230.4,477.61 230.8,478.41 231.2,479.99 231.6,481.4 232.4,480.16 233.2,478.4 233.73,480.41 234.27,480.85 234.8,482.4 235.2,481.45 235.6,479.85 236.0,478.33 236.4,476.59 236.8,475.3 237.3,476.36 237.8,477.23 238.3,478.61 238.8,480.4 239.1,481.22 239.4,483.58 239.7,484.32 240.0,485.61 240.3,487.5 241.17,488.25 242.03,490.64 242.9,491.5 243.9,490.52 244.9,488.5 245.25,490.24 245.6,491.19 245.95,492.64 246.3,494.5 247.3,495.24 248.3,496.51 249.3,497.6 250.33,498.12 251.37,499.52 252.4,500.6 253.4,501.6 254.4,503.91 255.4,504.6 255.9,506.54 256.4,507.22 256.9,508.07 257.4,509.7 258.02,511.55 258.64,511.83 259.26,513.1 259.88,513.8 260.5,515.7 262.0,515.03 263.5,514.7 264.5,513.66 265.5,512.7 266.0,513.95 266.5,514.78 267.0,516.46 267.5,517.7 268.87,517.71 270.23,518.77 271.6,519.8 272.93,519.89 274.27,521.13 275.6,521.8 277.12,522.1 278.65,522.4 280.18,522.7 281.7,523.0 283.03,523.03 284.37,523.07 285.7,523.1 287.03,523.13 288.37,523.17 289.7,523.2" fill="none" stroke="#111" stroke-width="1.4" stroke-linejoin="round"/>
<line x1="217" y1="442.5" x2="217" y2="523.5" stroke="#111" stroke-width="2" />
<polyline points="322.4,443 323.1,444.6 323.19,445.84 323.28,446.78 323.36,448.12 323.45,449.82 323.54,451.1 323.63,452.89 323.72,454.19 323.81,455.82 323.89,457.07 323.98,458.51 324.07,460.07 324.16,460.84 324.25,462.13 324.34,464.29 324.42,464.65 324.51,466.7 324.6,467.8 324.83,469.29 325.06,469.88 325.29,472.15 325.51,473.53 325.74,474.52 325.97,475.97 326.2,477.0 327.35,478.92 328.5,480.1 329.0,481.23 329.5,483.26 330.0,484.8 330.18,486.17 330.36,487.94 330.53,489.27 330.71,490.66 330.89,491.73 331.07,493.47 331.24,494.59 331.42,495.97 331.6,497.1 331.98,495.23 332.35,493.44 332.73,492.01 333.1,490.9 334.7,492.5 335.2,493.87 335.7,495.09 336.2,497.1 336.7,499.04 337.2,500.24 337.7,501.7 338.5,503.4 339.3,504.8 340.8,503.3 341.33,504.98 341.87,506.58 342.4,507.9 343.55,509.04 344.7,510.2 345.85,510.4 347.0,511.8 349.3,512.5 350.9,514.1 352.4,513.3 353.2,515.21 354.0,516.4 355.5,517.1 357.0,517.2 358.55,518.35 360.1,519.5 361.65,520.29 363.2,521.0 364.75,521.55 366.3,522.1 367.83,522.4 369.37,522.7 370.9,523.0" fill="none" stroke="#8a8a8a" stroke-width="1" stroke-linejoin="round"/>
<polyline points="322.4,443 323.1,444.6 323.27,446.14 323.43,446.92 323.6,448.97 323.77,449.86 323.93,451.06 324.1,452.63 324.27,454.47 324.43,455.33 324.6,457.0 324.73,458.63 324.86,460.26 324.99,461.16 325.12,462.44 325.25,463.93 325.38,465.52 325.51,467.0 325.64,468.24 325.77,469.65 325.9,470.9 326.08,469.18 326.27,467.95 326.45,466.75 326.63,465.94 326.82,464.2 327.0,463.1 327.17,464.55 327.33,465.37 327.5,466.79 327.67,468.38 327.83,470.16 328.0,471.56 328.17,472.92 328.33,473.91 328.5,475.5 329.25,477.07 330.0,478.6 330.8,480.11 331.6,481.7 332.35,482.82 333.1,484.0 333.42,482.22 333.74,481.59 334.06,479.5 334.38,478.88 334.7,477.0 334.91,478.76 335.13,479.17 335.34,480.94 335.56,482.63 335.77,484.11 335.99,484.92 336.2,486.3 337.7,487.8 338.1,488.92 338.5,490.21 338.9,492.3 339.3,493.2 341.6,494.0 343.9,493.2 344.7,491.76 345.5,490.9 345.88,492.53 346.25,493.64 346.62,495.57 347.0,497.1 348.15,498.7 349.3,499.4 350.45,499.83 351.6,501.0 352.4,502.59 353.2,503.54 354.0,504.8 355.15,506.74 356.3,507.9 357.45,509.65 358.6,511.0 360.4,512.5 361.4,511.08 362.4,510.2 364.0,511.8 364.46,513.58 364.92,514.55 365.38,515.46 365.84,516.82 366.3,518.7 367.45,517.94 368.6,517.2 369.75,518.65 370.9,520.2 372.45,521.0 374.0,521.8 375.53,522.2 377.07,522.6 378.6,523.0 379.95,523.08 381.3,523.15 382.65,523.2 384.0,523.2" fill="none" stroke="#111" stroke-width="1.4" stroke-linejoin="round"/>
<polyline points="420.3,443.1 420.4,444.18 420.5,445.33 420.6,447.05 420.7,448.41 420.8,450.64 420.9,450.7 421.0,453.3 421.1,454.84 421.2,455.09 421.3,457.78 421.4,458.5 421.53,460.22 421.67,461.9 421.8,462.3 421.93,463.81 422.07,465.22 422.2,467.56 422.33,468.29 422.47,469.3 422.6,470.9 423.0,472.31 423.4,473.59 423.8,474.75 424.2,477.0 425.7,478.6 426.23,479.5 426.77,482.2 427.3,483.2 427.8,481.32 428.3,480.83 428.8,478.6 429.55,479.75 430.3,481.7 431.25,480.18 432.2,479.4 432.6,477.85 433.0,475.77 433.4,474.7 435.3,476.3 436.5,474.7 437.03,475.8 437.57,478.03 438.1,478.6 438.85,480.76 439.6,481.7 441.9,481.7 442.43,483.73 442.97,484.98 443.5,486.3 444.65,487.71 445.8,487.8 446.95,489.71 448.1,490.2 448.85,491.43 449.6,492.5 450.13,494.38 450.67,494.85 451.2,497.1 452.35,499.02 453.5,500.2 454.65,501.67 455.8,503.3 456.6,505.25 457.4,506.4 458.55,508.13 459.7,509.4 460.27,510.23 460.85,511.03 461.43,513.61 462.0,514.1 463.15,514.65 464.3,516.4 465.33,517.39 466.37,518.22 467.4,519.5 468.67,519.94 469.93,521.03 471.2,521.8 472.55,522.07 473.9,522.35 475.25,522.62 476.6,522.9" fill="none" stroke="#444" stroke-width="1.1" stroke-linejoin="round" stroke-dasharray="1.1 0.9"/>
<polyline points="420.3,443.1 420.4,444.69 420.5,446.28 420.6,446.91 420.7,448.66 420.8,449.65 420.9,451.26 421.0,452.44 421.1,453.9 421.5,455.12 421.9,457.0 422.07,458.19 422.25,459.76 422.43,461.98 422.6,463.1 422.8,464.65 423.0,465.92 423.2,468.16 423.4,469.3 424.2,470.9 424.38,472.75 424.55,473.55 424.72,474.59 424.9,476.3 425.43,477.26 425.97,478.42 426.5,480.1 426.87,481.51 427.23,482.82 427.6,484.8 427.73,483.21 427.86,481.9 427.99,480.88 428.11,479.87 428.24,478.41 428.37,476.74 428.5,475.5 428.66,476.74 428.81,478.18 428.97,479.36 429.13,480.65 429.29,481.7 429.44,483.25 429.6,484.8 429.97,486.8 430.33,487.49 430.7,489.4 431.9,487.8 432.65,489.35 433.4,490.9 434.55,492.18 435.7,493.2 436.9,494.76 438.1,495.6 439.25,496.07 440.4,497.1 441.4,498.42 442.4,500.2 443.15,498.8 443.9,497.9 444.85,498.95 445.8,500.2 446.57,501.68 447.33,503.72 448.1,504.8 449.25,506.7 450.4,507.9 452.0,507.1 452.77,508.77 453.53,509.22 454.3,511.0 455.07,511.8 455.83,513.74 456.6,514.8 458.15,516.0 459.7,516.4 460.97,516.87 462.23,517.49 463.5,517.9 464.8,518.17 466.1,519.32 467.4,520.2 468.67,521.16 469.93,521.27 471.2,521.8 472.55,522.07 473.9,522.35 475.25,522.62 476.6,522.9 478.08,522.98 479.56,523.06 481.04,523.14 482.52,523.2 484.0,523.2" fill="none" stroke="#111" stroke-width="1.4" stroke-linejoin="round"/>
<line x1="12.5" y1="538.5" x2="515" y2="538.5" stroke="#111" stroke-width="1.2" />
<path d="M514.6 535.6 L519.8 538.6 L514.6 541.7 Z" fill="#111"/>
<text x="264.8" y="554.1" font-size="10.15" text-anchor="middle" fill="#1a1a1a" >GFP log fluorescence</text>
</svg>
</body></html>
